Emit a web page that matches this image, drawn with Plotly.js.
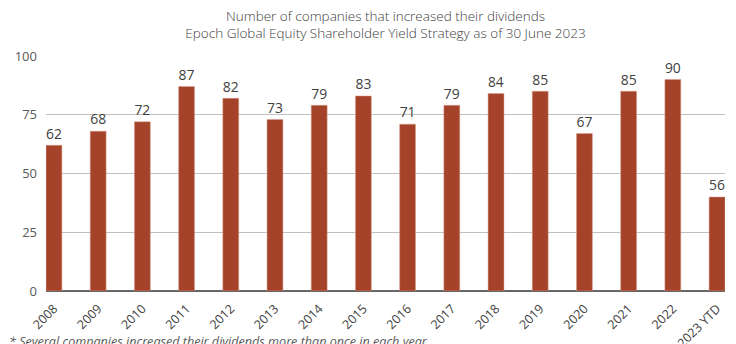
<!DOCTYPE html>
<html><head><meta charset="utf-8">
<script src="https://cdn.plot.ly/plotly-3.0.1.min.js"></script>
<style>html,body{margin:0;padding:0;background:#fff;}#chart{width:736px;height:344px;}</style>
</head><body><div id="chart"></div>
<script>
var years = ["2008","2009","2010","2011","2012","2013","2014","2015","2016","2017","2018","2019","2020","2021","2022","2023 YTD"];
var barValues = [62,68,72,87,82,73,79,83,71,79,84,85,67,85,90,40];
var barLabels = ["62","68","72","87","82","73","79","83","71","79","84","85","67","85","90","56"];
var yTicks = [0,25,50,75,100];

var trace = {
  type: "bar",
  x: years,
  y: barValues,
  text: barLabels,
  textposition: "outside",
  cliponaxis: false,
  textfont: {family: "Open Sans", size: 15, color: "#404040"},
  marker: {color: "#A5432A", line: {color: "#D9A08F", width: 0.5}},
  width: 0.36,
  hoverinfo: "x+y"
};

var layout = {
  width: 736, height: 344,
  margin: {l: 46, r: 11, t: 56, b: 53},
  paper_bgcolor: "#fff", plot_bgcolor: "#fff",
  font: {family: "Open Sans", color: "#404040"},
  title: {
    text: "Number of companies that increased their dividends<br>Epoch Global Equity Shareholder Yield Strategy as of 30 June 2023",
    font: {family: "Open Sans", size: 13.5, color: "#404040", weight: 300},
    xref: "paper", x: 0.5, xanchor: "center",
    yref: "container", y: 0.94, yanchor: "top"
  },
  xaxis: {
    type: "category",
    range: [-0.18, 15.18],
    tickangle: -45,
    tickfont: {family: "Open Sans", size: 12.5, color: "#404040"},
    showgrid: false, showline: false, zeroline: false, ticks: "",
    ticklabelstandoff: 7,
    fixedrange: true
  },
  yaxis: {
    range: [0, 100],
    tickvals: yTicks,
    ticktext: yTicks.map(String),
    tickfont: {family: "Open Sans", size: 13, color: "#595959"},
    gridcolor: "#C0C0C0", gridwidth: 1,
    zeroline: true, zerolinecolor: "#666666", zerolinewidth: 2,
    showline: false, ticks: "", ticklabelstandoff: 8,
    fixedrange: true
  },
  showlegend: false,
  annotations: [{
    text: "* Several companies increased their dividends more than once in each year.",
    xref: "paper", yref: "paper", x: -0.057, y: -0.216, xanchor: "left", yanchor: "middle",
    showarrow: false,
    font: {family: "Open Sans", size: 12.6, color: "#595959", style: "italic"}
  }]
};

Plotly.newPlot("chart", [trace], layout, {displayModeBar: false, staticPlot: true});
</script></body></html>
